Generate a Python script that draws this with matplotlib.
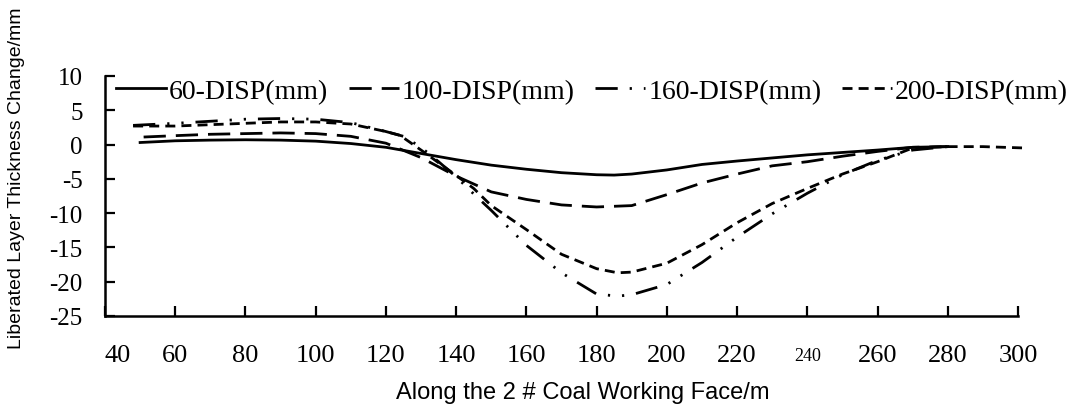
import matplotlib
matplotlib.use("Agg")
import matplotlib.pyplot as plt
from matplotlib.transforms import ScaledTranslation

# ---- data ----
x60 = [50, 60, 70, 80, 90, 100, 110, 120, 130, 140, 150, 160, 170, 180, 185, 190, 200, 210, 220, 230, 240, 250, 260, 270, 280]
y60 = [0.3, 0.55, 0.65, 0.7, 0.65, 0.5, 0.15, -0.4, -1.3, -2.2, -3.0, -3.6, -4.1, -4.4, -4.45, -4.3, -3.7, -2.9, -2.4, -1.95, -1.5, -1.15, -0.8, -0.4, -0.3]

x100 = [51, 60, 70, 80, 90, 100, 110, 120, 130, 140, 150, 160, 170, 180, 190, 200, 210, 220, 230, 240, 250, 260, 270, 280]
y100 = [1.1, 1.3, 1.5, 1.6, 1.7, 1.6, 1.2, 0.2, -1.9, -4.6, -6.9, -8.0, -8.8, -9.1, -8.9, -7.3, -5.6, -4.3, -3.1, -2.5, -1.7, -1.0, -0.4, -0.3]

x160 = [48, 60, 70, 80, 90, 100, 110, 120, 125, 130, 135, 140, 145, 150, 160, 170, 180, 186, 190, 200, 210, 220, 230, 240, 250, 260, 270, 280]
y160 = [2.8, 3.1, 3.4, 3.7, 3.8, 3.7, 3.2, 1.9, 1.2, -0.4, -2.5, -4.7, -7.2, -9.6, -14.7, -18.7, -21.8, -22.1, -21.9, -20.4, -17.2, -13.5, -10.1, -7.1, -4.4, -2.3, -0.8, -0.3]

x200 = [48, 60, 70, 80, 90, 100, 110, 120, 124, 130, 140, 145, 150, 160, 170, 180, 186, 190, 200, 210, 220, 230, 240, 250, 260, 270, 280, 290, 302]
y200 = [2.7, 2.7, 2.9, 3.1, 3.3, 3.3, 3.0, 1.9, 1.35, -0.8, -4.5, -6.4, -8.9, -12.4, -16.0, -18.1, -18.7, -18.6, -17.3, -14.6, -11.4, -8.6, -6.4, -4.3, -2.5, -0.5, -0.3, -0.3, -0.5]

labels = ["60-DISP(mm)", "100-DISP(mm)", "160-DISP(mm)", "200-DISP(mm)"]
xticks = [40, 60, 80, 100, 120, 140, 160, 180, 200, 220, 240, 260, 280, 300]
yticks = [-25, -20, -15, -10, -5, 0, 5, 10]

SERIF = ["Liberation Serif", "DejaVu Serif"]
SANS = ["Liberation Sans", "DejaVu Sans"]

fig = plt.figure(figsize=(10.82, 4.06), dpi=100)
ax = fig.add_axes([105/1082, 1-317/406, (1018-105)/1082, (317-77)/406])

lw = 2.0
styles = [
    dict(linestyle="-"),
    dict(linestyle=(0, (8.0, 3.6))),
    dict(linestyle=(0, (8.0, 4.3, 0.8, 4.3, 0.8, 4.3))),
    dict(linestyle=(0, (3.6, 2.2))),
]
series = [(x60, y60), (x100, y100), (x160, y160), (x200, y200)]
handles = []
for (xs, ys), st, lab in zip(series, styles, labels):
    ln, = ax.plot(xs, ys, color="black", lw=lw, clip_on=False, label=lab, **st)
    handles.append(ln)

ax.set_xlim(40, 300)
ax.set_ylim(-25, 10)
for s in ["top", "right"]:
    ax.spines[s].set_visible(False)
for s in ["left", "bottom"]:
    ax.spines[s].set_linewidth(1.8)

ax.set_xticks(xticks)
ax.set_xticklabels([str(t) for t in xticks])
ax.set_yticks(yticks)
ax.set_yticklabels([str(t) for t in yticks])
ax.tick_params(axis="both", direction="in", length=7, width=1.6)
ax.tick_params(axis="x", pad=20)
ax.tick_params(axis="y", pad=16)
for lbl in ax.get_xticklabels():
    lbl.set_fontfamily(SERIF)
    lbl.set_fontsize(19)
    if lbl.get_text() == "240":
        lbl.set_fontsize(13)
        lbl.set_transform(lbl.get_transform() + ScaledTranslation(0, -0.03, fig.dpi_scale_trans))
    if lbl.get_text() == "40":
        lbl.set_transform(lbl.get_transform() + ScaledTranslation(0.13, 0, fig.dpi_scale_trans))
for lbl in ax.get_yticklabels():
    lbl.set_fontfamily(SERIF)
    lbl.set_fontsize(18)

fig.text(17/1082, 1-178/406, "Liberated Layer Thickness Change/mm", rotation=90,
         ha="center", va="center", family=SANS, fontsize=14)
fig.text(583/1082, 1-393/406, "Along the 2 # Coal Working Face/m",
         ha="center", va="center", family=SANS, fontsize=17)

leg = fig.legend(handles=handles, labels=labels, ncol=4, loc="center left",
                 bbox_to_anchor=(116/1082, 1-92/406), frameon=False,
                 prop={"family": SERIF, "size": 20}, handlelength=1.8,
                 handletextpad=0.1, columnspacing=0.75, borderpad=0, borderaxespad=0)

fig.savefig("out.png", dpi=100)
